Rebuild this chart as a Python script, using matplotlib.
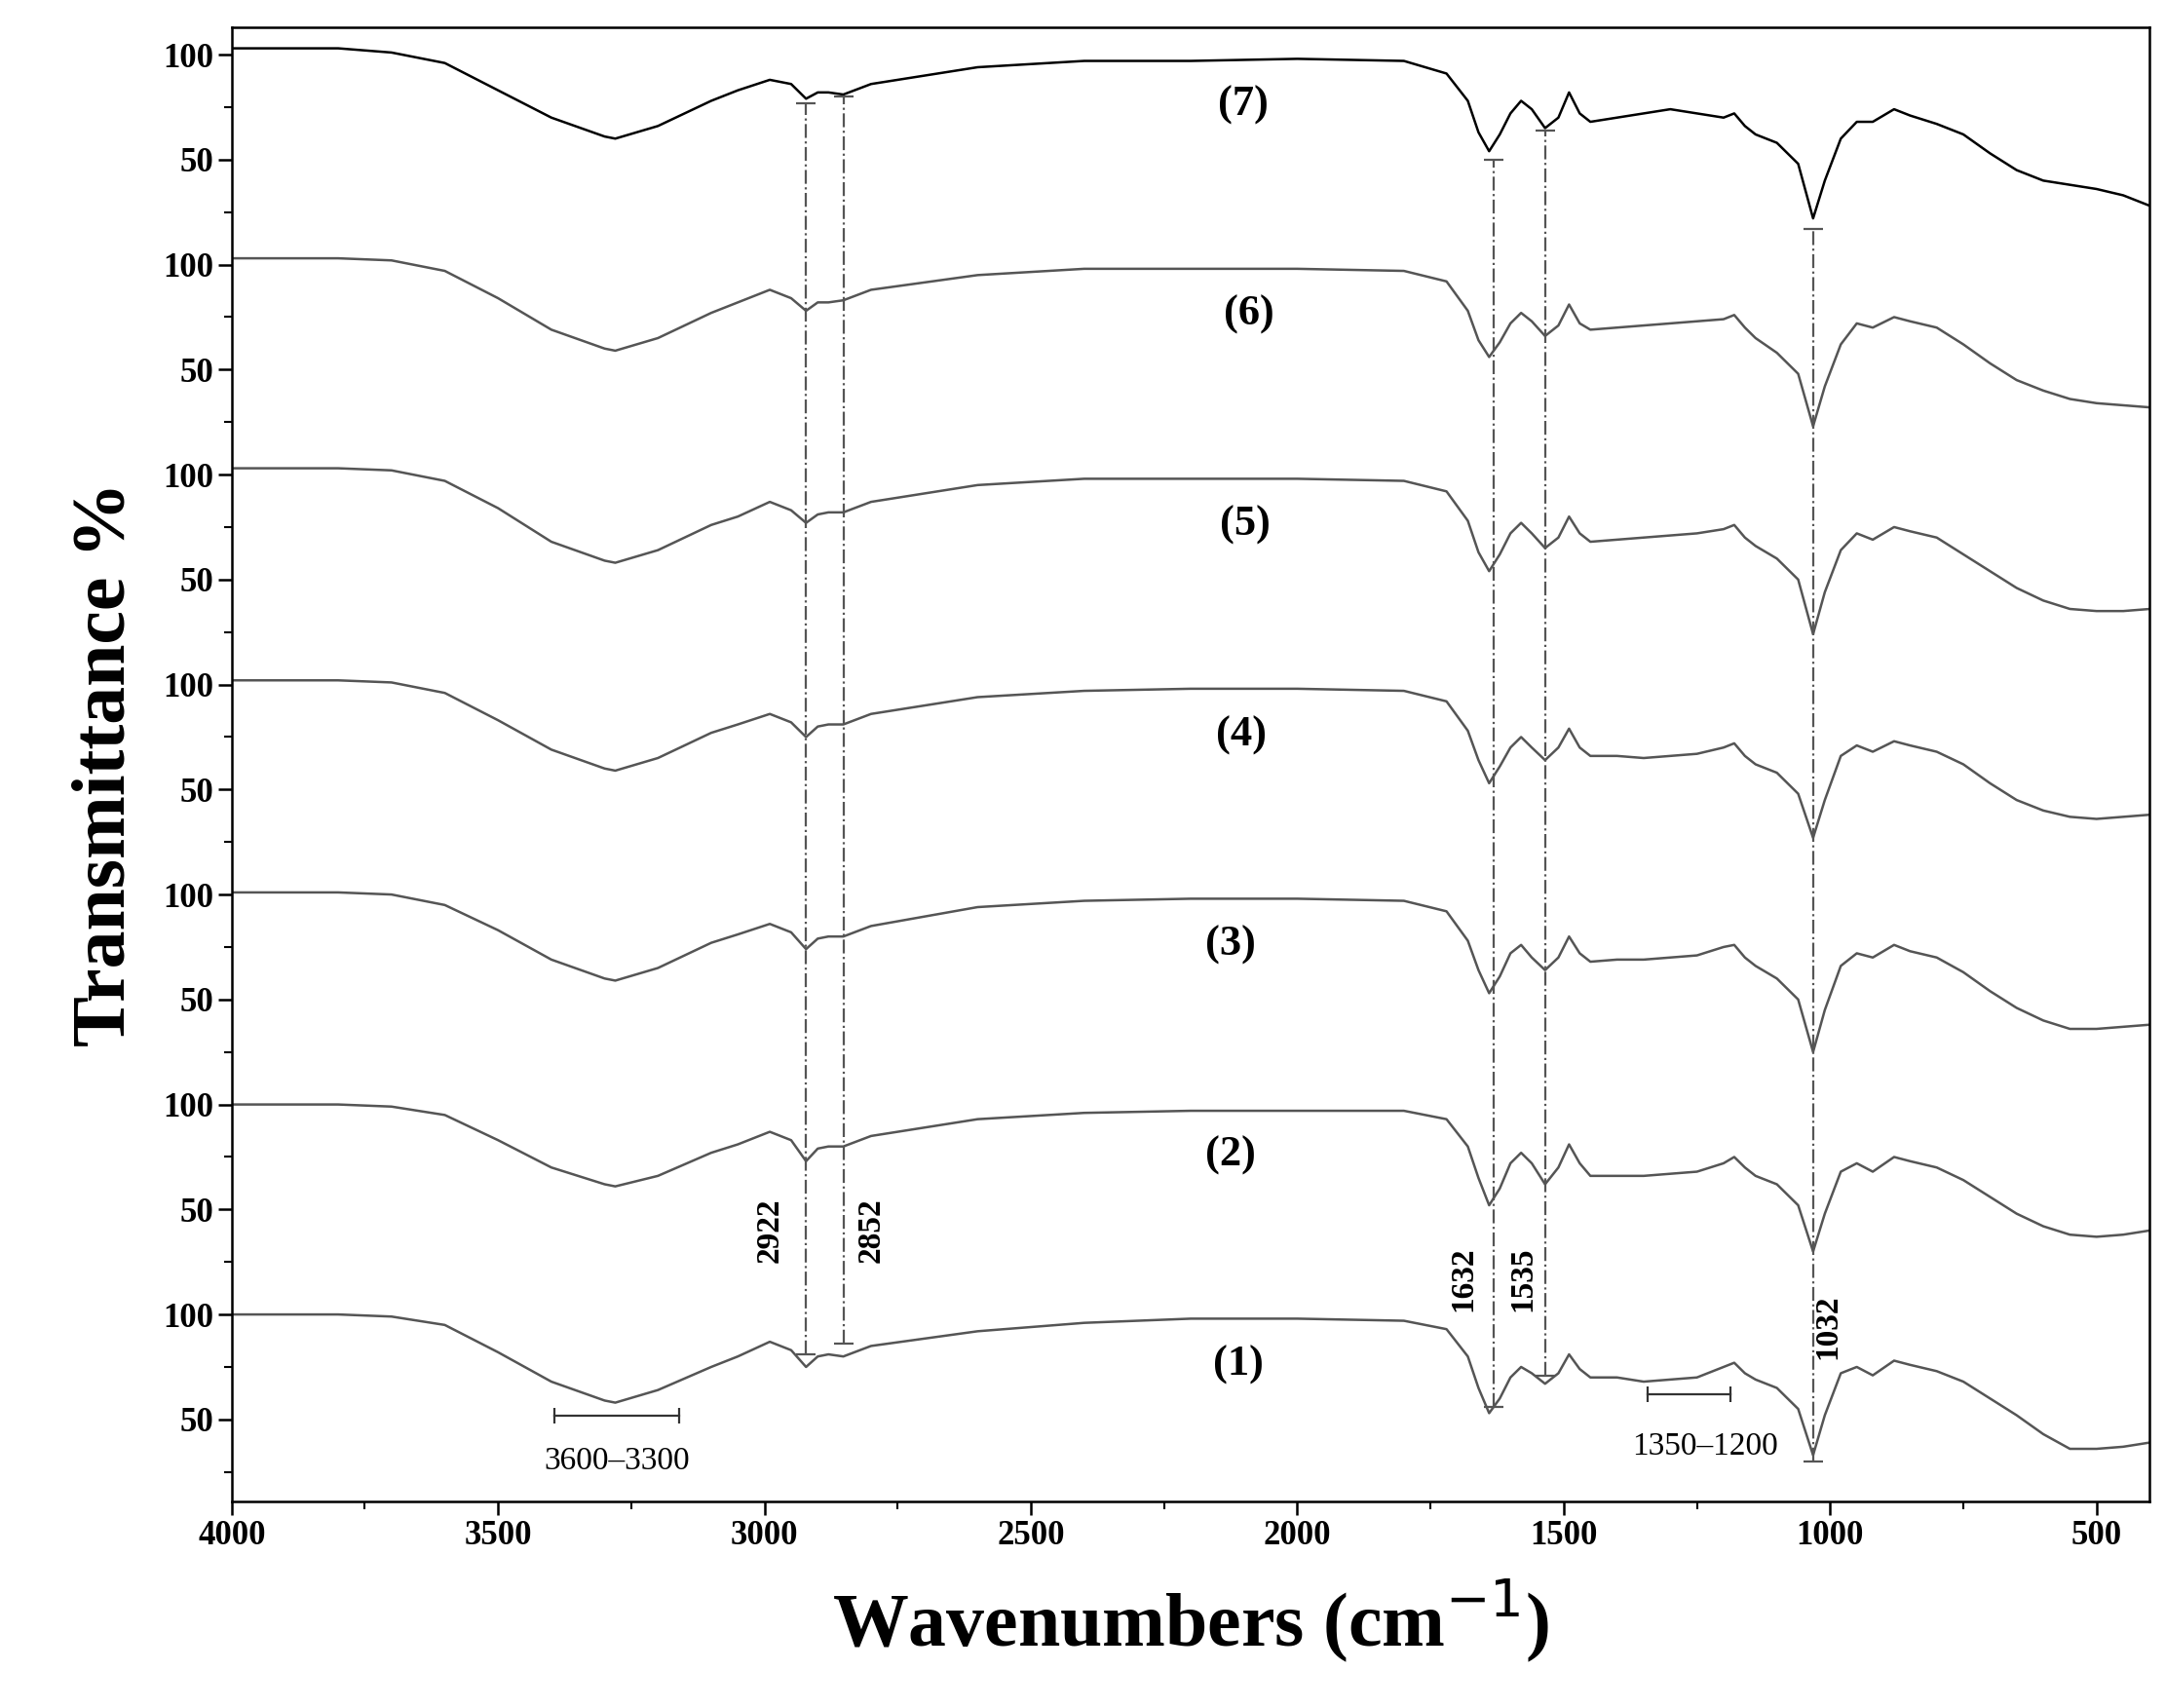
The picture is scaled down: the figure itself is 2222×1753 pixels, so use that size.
import numpy as np
import matplotlib.pyplot as plt
from matplotlib.ticker import FixedLocator, MultipleLocator

# wavenumber nodes shared by all spectra (cm-1)
wn = [4000, 3800, 3700, 3600, 3500, 3400, 3300, 3280, 3200, 3100,
      3050, 2990, 2950, 2922, 2900, 2880, 2852, 2800, 2600, 2400,
      2200, 2000, 1800, 1720, 1680, 1660, 1640, 1620, 1600, 1580,
      1560, 1535, 1510, 1490, 1470, 1450, 1400, 1350, 1300, 1250,
      1200, 1180, 1160, 1140, 1100, 1060, 1032, 1010, 980, 950,
      920, 880, 850, 800, 750, 700, 650, 600, 550, 500,
      450, 400]

t1 = [100, 100, 99, 95, 82, 68, 59, 58, 64, 75,
      80, 87, 83, 75, 80, 81, 80, 85, 92, 96,
      98, 98, 97, 93, 80, 65, 53, 60, 70, 75,
      72, 67, 72, 81, 74, 70, 70, 68, 69, 70,
      75, 77, 72, 69, 65, 55, 33, 52, 72, 75,
      71, 78, 76, 73, 68, 60, 52, 43, 36, 36,
      37, 39]
t2 = [100, 100, 99, 95, 83, 70, 62, 61, 66, 77,
      81, 87, 83, 73, 79, 80, 80, 85, 93, 96,
      97, 97, 97, 93, 80, 65, 52, 60, 72, 77,
      72, 62, 70, 81, 72, 66, 66, 66, 67, 68,
      72, 75, 70, 66, 62, 52, 30, 48, 68, 72,
      68, 75, 73, 70, 64, 56, 48, 42, 38, 37,
      38, 40]
t3 = [101, 101, 100, 95, 83, 69, 60, 59, 65, 77,
      81, 86, 82, 74, 79, 80, 80, 85, 94, 97,
      98, 98, 97, 92, 78, 64, 53, 61, 72, 76,
      70, 64, 70, 80, 72, 68, 69, 69, 70, 71,
      75, 76, 70, 66, 60, 50, 25, 45, 66, 72,
      70, 76, 73, 70, 63, 54, 46, 40, 36, 36,
      37, 38]
t4 = [102, 102, 101, 96, 83, 69, 60, 59, 65, 77,
      81, 86, 82, 75, 80, 81, 81, 86, 94, 97,
      98, 98, 97, 92, 78, 64, 53, 61, 70, 75,
      70, 64, 70, 79, 70, 66, 66, 65, 66, 67,
      70, 72, 66, 62, 58, 48, 27, 45, 66, 71,
      68, 73, 71, 68, 62, 53, 45, 40, 37, 36,
      37, 38]
t5 = [103, 103, 102, 97, 84, 68, 59, 58, 64, 76,
      80, 87, 83, 77, 81, 82, 82, 87, 95, 98,
      98, 98, 97, 92, 78, 63, 54, 62, 72, 77,
      72, 65, 70, 80, 72, 68, 69, 70, 71, 72,
      74, 76, 70, 66, 60, 50, 24, 44, 64, 72,
      69, 75, 73, 70, 62, 54, 46, 40, 36, 35,
      35, 36]
t6 = [103, 103, 102, 97, 84, 69, 60, 59, 65, 77,
      82, 88, 84, 78, 82, 82, 83, 88, 95, 98,
      98, 98, 97, 92, 78, 64, 56, 63, 72, 77,
      73, 66, 71, 81, 72, 69, 70, 71, 72, 73,
      74, 76, 70, 65, 58, 48, 23, 42, 62, 72,
      70, 75, 73, 70, 62, 53, 45, 40, 36, 34,
      33, 32]
t7 = [103, 103, 101, 96, 83, 70, 61, 60, 66, 78,
      83, 88, 86, 79, 82, 82, 81, 86, 94, 97,
      97, 98, 97, 91, 78, 63, 54, 62, 72, 78,
      74, 65, 70, 82, 72, 68, 70, 72, 74, 72,
      70, 72, 66, 62, 58, 48, 22, 40, 60, 68,
      68, 74, 71, 67, 62, 53, 45, 40, 38, 36,
      33, 28]
spectra = [t1, t2, t3, t4, t5, t6, t7]
names = ["(1)", "(2)", "(3)", "(4)", "(5)", "(6)", "(7)"]
label_x = [2110, 2125, 2125, 2105, 2097, 2091, 2102]
offset = 100

# marked bands: wavenumber, line bottom, line top, text x, text y
bands = [2922, 2852, 1632, 1535, 1032]
band_lo = [81, 86, 56, 71, 30]
band_hi = [677, 680, 650, 664, 617]
band_tx = [2990, 2800, 1689, 1577, 1005]
band_ty = [140, 140, 117, 117, 94]

ranges = [(3394, 3160), (1343, 1187)]
range_y = [52, 62]
range_text = ["3600\u20133300", "1350\u20131200"]
range_tx = [3277, 1234]
range_ty = [30, 37]

serif = "Liberation Serif"
fig = plt.figure(figsize=(22.22, 17.53), dpi=100)
ax = fig.add_axes([0.107, 0.121, 0.886, 0.863])

for i, t in enumerate(spectra):
    y = np.array(t) + i * offset
    ax.plot(wn, y, color="black" if i == 6 else "#555555", lw=1.8)
    ax.text(label_x[i], i * offset + 76, names[i], fontsize=32,
            fontweight="bold", family=serif, ha="center", va="center")

for b, lo, hi, tx, ty in zip(bands, band_lo, band_hi, band_tx, band_ty):
    ax.plot([b, b], [lo, hi], color="#555555", ls="-.", lw=1.6)
    ax.plot([b, b], [lo, hi], ls="none", marker="_", ms=14, mew=1.6,
            color="#555555")
    ax.text(tx, ty, str(b), rotation=90, fontsize=24, family=serif,
            fontweight="semibold", ha="center", va="center")

for (a, b), ry, s, tx, ty in zip(ranges, range_y, range_text, range_tx, range_ty):
    ax.plot([a, b], [ry, ry], color="#333333", lw=1.6)
    ax.plot([a, b], [ry, ry], ls="none", marker="|", ms=12, mew=1.6,
            color="#333333")
    ax.text(tx, ty, s, fontsize=24, family=serif, ha="center", va="center")

ax.set_xlim(4000, 400)
ax.set_ylim(11, 713)
ax.xaxis.set_major_locator(MultipleLocator(500))
ax.xaxis.set_minor_locator(MultipleLocator(250))
major = []
labels = []
minor = []
for i in range(7):
    major += [i * offset + 50, i * offset + 100]
    labels += ["50", "100"]
    minor += [i * offset + 25, i * offset + 75]
ax.yaxis.set_major_locator(FixedLocator(major))
ax.set_yticklabels(labels)
ax.yaxis.set_minor_locator(FixedLocator(minor))
ax.tick_params(which="major", length=10, width=1.8, labelsize=25)
ax.tick_params(which="minor", length=6, width=1.5)
for lab in ax.get_xticklabels() + ax.get_yticklabels():
    lab.set_fontfamily(serif)
    lab.set_fontweight("bold")
for sp in ax.spines.values():
    sp.set_linewidth(1.8)

ax.set_xlabel("Wavenumbers (cm$^{\u22121}$)", fontsize=56,
              fontweight="bold", family=serif, labelpad=18)
ax.set_ylabel("Transmittance %", fontsize=56, fontweight="bold",
              family=serif, labelpad=16)

fig.savefig("out.png", dpi=100)
